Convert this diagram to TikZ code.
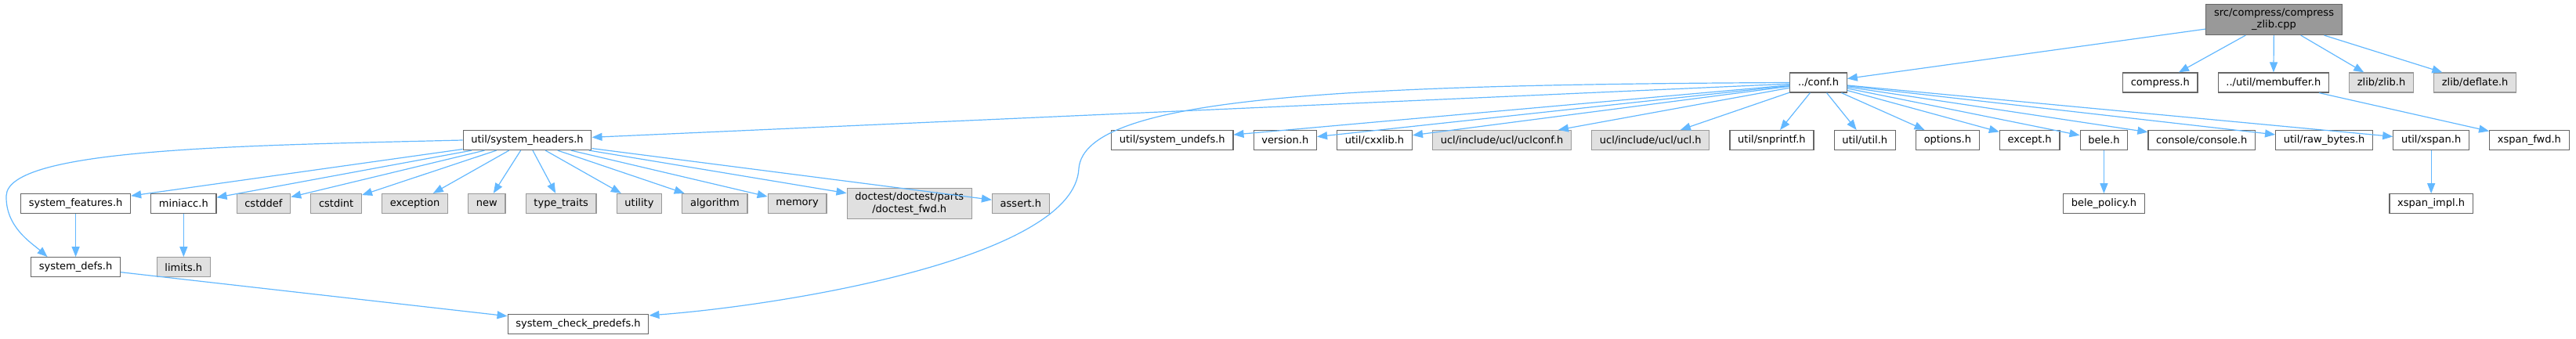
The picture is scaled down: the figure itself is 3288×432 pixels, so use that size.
\documentclass[tikz,border=0pt]{standalone}
\usepackage{fontspec}
\setmainfont{DejaVu Sans}
\usepackage{xcolor}
\usetikzlibrary{positioning, arrows.meta}
\definecolor{edgeblue}{HTML}{63B8FF}

\begin{document}
\begin{tikzpicture}[
  x=1pt, y=-1pt,
  node distance=55pt and 25pt,
  file/.style={draw=black!60, fill=white, line width=1.2pt, minimum height=25pt, inner xsep=10.2pt, inner ysep=2pt, align=center, font=\fontsize{13}{15.5}\selectfont},
  sysfile/.style={file, draw=black!40, fill=black!12},
  rootfile/.style={file, fill=black!40, minimum height=39pt},
  dep/.style={-{Stealth[inset=0pt, length=13pt, width=10pt]}, draw=edgeblue, line width=1.2pt}
]
\useasboundingbox (0,0) rectangle (3288,432);

\node[rootfile] (root) at (2902.5,25) {src/compress/compress\\\_zlib.cpp};
\node[file] (conf) at (2321,105.5) {../conf.h};
\node[file, anchor=west] (compress) at (2709,105.5) {compress.h};
\node[file, right=of compress] (membuf) {../util/membuffer.h};
\node[sysfile, right=of membuf] (zlib) {zlib/zlib.h};
\node[sysfile, right=of zlib] (deflate) {zlib/deflate.h};

\node[file] (sysheaders) at (673,179) {util/system\_headers.h};
\node[file, anchor=west] (sysundefs) at (1418,179) {util/system\_undefs.h};
\node[file, right=of sysundefs] (version) {version.h};
\node[file, right=of version] (cxxlib) {util/cxxlib.h};
\node[sysfile, right=of cxxlib] (uclconf) {ucl/include/ucl/uclconf.h};
\node[sysfile, right=of uclconf] (ucl) {ucl/include/ucl/ucl.h};
\node[file, right=of ucl] (snprintf) {util/snprintf.h};
\node[file, right=of snprintf] (util) {util/util.h};
\node[file, right=of util] (options) {options.h};
\node[file, right=of options] (except) {except.h};
\node[file, right=of except] (bele) {bele.h};
\node[file, right=of bele] (console) {console/console.h};
\node[file, right=of console] (rawbytes) {util/raw\_bytes.h};
\node[file, right=of rawbytes] (xspan) {util/xspan.h};
\node[file, right=of xspan] (xspanfwd) {xspan\_fwd.h};

\node[file, anchor=west] (sysfeatures) at (26,260) {system\_features.h};
\node[file, right=of sysfeatures] (miniacc) {miniacc.h};
\node[sysfile, right=of miniacc] (cstddef) {cstddef};
\node[sysfile, right=of cstddef] (cstdint) {cstdint};
\node[sysfile, right=of cstdint] (exception) {exception};
\node[sysfile, right=of exception] (new) {new};
\node[sysfile, right=of new] (typetraits) {type\_traits};
\node[sysfile, right=of typetraits] (utility) {utility};
\node[sysfile, right=of utility] (algorithm) {algorithm};
\node[sysfile, right=of algorithm] (memory) {memory};
\node[sysfile, right=of memory, minimum height=39pt] (doctest) {doctest/doctest/parts\\/doctest\_fwd.h};
\node[sysfile, right=of doctest] (assert) {assert.h};
\node[file, below=of bele] (belepolicy) {bele\_policy.h};
\node[file, below=of xspan] (xspanimpl) {xspan\_impl.h};

\node[file, below=of sysfeatures] (sysdefs) {system\_defs.h};
\node[sysfile, below=of miniacc] (limits) {limits.h};
\node[file] (predefs) at (738,414) {system\_check\_predefs.h};

\draw[dep] (root) -- (conf);
\draw[dep] (root) -- (compress);
\draw[dep] (root) -- (membuf);
\draw[dep] (root) -- (zlib);
\draw[dep] (root) -- (deflate);
\draw[dep] (membuf) -- (xspanfwd);

\draw[dep] (conf) -- (sysheaders);
\draw[dep] (conf) -- (sysundefs);
\draw[dep] (conf) -- (version);
\draw[dep] (conf) -- (cxxlib);
\draw[dep] (conf) -- (uclconf);
\draw[dep] (conf) -- (ucl);
\draw[dep] (conf) -- (snprintf);
\draw[dep] (conf) -- (util);
\draw[dep] (conf) -- (options);
\draw[dep] (conf) -- (except);
\draw[dep] (conf) -- (bele);
\draw[dep] (conf) -- (console);
\draw[dep] (conf) -- (rawbytes);
\draw[dep] (conf) -- (xspan);
\draw[dep] (conf.west) .. controls (1700,108) and (1385,125) .. (1377,215) .. controls (1372,330) and (1000,390) .. (predefs.7);
\draw[dep] (bele) -- (belepolicy);
\draw[dep] (xspan) -- (xspanimpl);

\draw[dep] (sysheaders) -- (sysfeatures);
\draw[dep] (sysheaders) -- (miniacc);
\draw[dep] (sysheaders) -- (cstddef);
\draw[dep] (sysheaders) -- (cstdint);
\draw[dep] (sysheaders) -- (exception);
\draw[dep] (sysheaders) -- (new);
\draw[dep] (sysheaders) -- (typetraits);
\draw[dep] (sysheaders) -- (utility);
\draw[dep] (sysheaders) -- (algorithm);
\draw[dep] (sysheaders) -- (memory);
\draw[dep] (sysheaders) -- (doctest);
\draw[dep] (sysheaders) -- (assert);
\draw[dep] (sysheaders.west) .. controls (300,186) and (10,190) .. (8,250) .. controls (7,290) and (40,310) .. (sysdefs.160);
\draw[dep] (sysfeatures) -- (sysdefs);
\draw[dep] (miniacc) -- (limits);
\draw[dep] (sysdefs) -- (predefs);
\end{tikzpicture}
\end{document}
